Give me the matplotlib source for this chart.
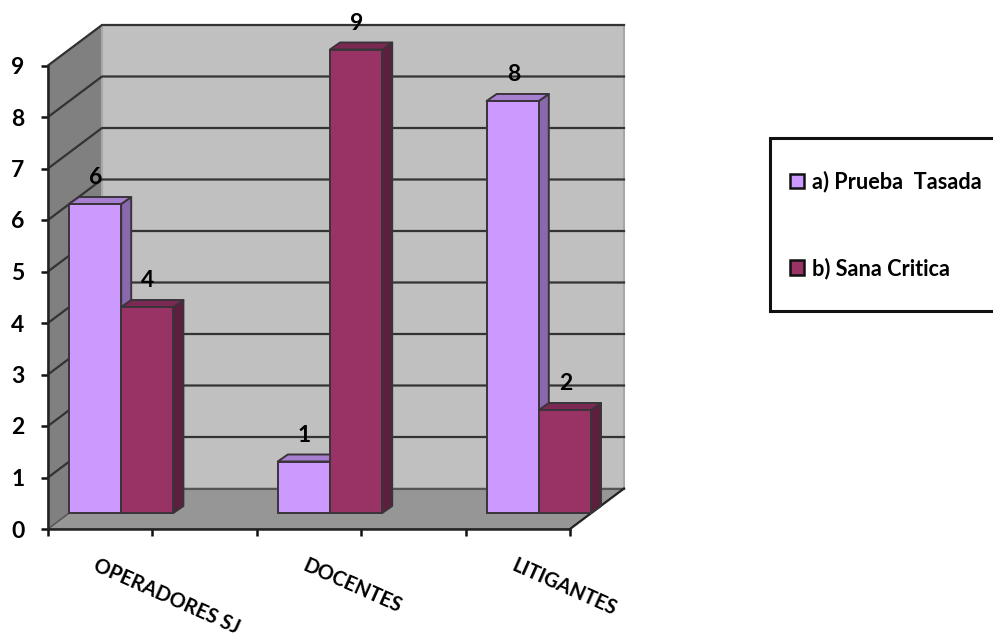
import matplotlib
matplotlib.use("Agg")
import matplotlib.pyplot as plt
from matplotlib.patches import Polygon, Rectangle, Patch

categories = ["OPERADORES SJ", "DOCENTES", "LITIGANTES"]
series_names = ["a) Prueba  Tasada", "b) Sana Critica"]
prueba_tasada = [6, 1, 8]
sana_critica = [4, 9, 2]

plt.rcParams["font.family"] = ["Lato", "DejaVu Sans"]
W, H = 993, 639
fig = plt.figure(figsize=(W / 100, H / 100), dpi=100, facecolor="white")
L, R, T, B = 48, 570, 65.5, 529
ax = fig.add_axes([L / W, (H - B) / H, (R - L) / W, (B - T) / H])
ax.set_xlim(0, 2.5)
ax.set_ylim(0, 9)
ax.set_facecolor("none")

px = 2.5 / (R - L)   # data per pixel, x
py = 9 / (B - T)     # data per pixel, y
WALL = (54 * px, 40.5 * py)
BAR_OFF = (21 * px, 16 * py)
BAR_DEPTH = (10 * px, 7 * py)
BAR_W = 0.25
EDGE = "#3a343a"


def poly(pts, fc, ec=EDGE, lw=1.4, z=1):
    ax.add_patch(Polygon(pts, closed=True, facecolor=fc, edgecolor=ec,
                         linewidth=lw, zorder=z, clip_on=False, joinstyle="round"))


xmax, ymax = 2.5, 9
wx, wy = WALL
# walls and floor
poly([(0, 0), (wx, wy), (wx, ymax + wy), (0, ymax)], "#808080", ec="#6a6a6a", lw=1, z=1)
poly([(wx, wy), (xmax + wx, wy), (xmax + wx, ymax + wy), (wx, ymax + wy)], "#c0c0c0", ec="#a8a8a8", lw=1.5, z=1)
poly([(0, 0), (xmax, 0), (xmax + wx, wy), (wx, wy)], "#969696", ec="#555555", lw=1, z=1)
# gridlines across side wall and back wall
for v in range(1, 10):
    ax.plot([0, wx, xmax + wx], [v, v + wy, v + wy], color="#333333", lw=1.6,
            zorder=2, clip_on=False, solid_joinstyle="round")
ax.plot([wx, xmax + wx], [wy, wy], color="#555555", lw=1.5, zorder=2, clip_on=False)
ax.plot([xmax, xmax + wx], [0, wy], color="#222222", lw=1.6, zorder=2, clip_on=False)

# bars
styles = [("#cc99ff", "#a77fd0", "#8a68ae"), ("#993366", "#7a2952", "#5c1f3d")]
ox, oy = BAR_OFF
dx, dy = BAR_DEPTH
z = 3
for i in range(len(categories)):
    for j, vals in enumerate((prueba_tasada, sana_critica)):
        v = vals[i]
        front, top, side = styles[j]
        x0 = i + ox + j * BAR_W
        x1 = x0 + BAR_W
        y1 = oy + v
        poly([(x1, oy), (x1 + dx, oy + dy), (x1 + dx, y1 + dy), (x1, y1)], side, z=z)
        poly([(x0, y1), (x1, y1), (x1 + dx, y1 + dy), (x0 + dx, y1 + dy)], top, z=z)
        ax.bar(x0, v, width=BAR_W, bottom=oy, align="edge", color=front,
               edgecolor=EDGE, linewidth=1.4, zorder=z + 0.1, clip_on=False)
        ax.annotate(str(v), (x0 + BAR_W / 2, y1), xytext=(0.5, 26.5 * 0.72),
                    textcoords="offset points", ha="center", va="center",
                    fontsize=16.5, fontweight="bold", color="black",
                    zorder=20, annotation_clip=False)
        z += 1

# axes
for s in ("top", "right"):
    ax.spines[s].set_visible(False)
for s in ("left", "bottom"):
    ax.spines[s].set_color("#222222")
    ax.spines[s].set_linewidth(1.8)
    ax.spines[s].set_zorder(2.5)
ax.set_yticks(range(0, 10))
ax.set_xticks([k * 0.5 for k in range(6)])
ax.set_xticklabels([])
ax.tick_params(axis="both", length=5, width=1.8, color="#111111")
ax.tick_params(axis="y", pad=12, labelsize=16.5)
for t in ax.get_yticklabels():
    t.set_fontweight("bold")

for i, name in enumerate(categories):
    ax.annotate(name, (i + 51 * px, 0), xytext=(0, -19), textcoords="offset points",
                rotation=-24, rotation_mode="anchor", ha="left", va="top",
                fontsize=14.4, fontweight="bold", annotation_clip=False)

# legend
fig.add_artist(Rectangle((769.5 / W, (H - 311) / H), 260 / W, 173 / H,
                         transform=fig.transFigure, facecolor="white",
                         edgecolor="#111111", linewidth=2.2, zorder=1))
handles = [Patch(facecolor=styles[k][0], edgecolor="#111111", linewidth=1.8) for k in range(2)]
leg = fig.legend(handles, series_names, loc="center left",
                 bbox_to_anchor=(790 / W, (H - 225) / H), frameon=False,
                 prop={"family": "Lato", "weight": "bold", "size": 15.6},
                 handlelength=0.65, handleheight=0.65, handletextpad=0.36,
                 labelspacing=3.0, borderpad=0, borderaxespad=0)
leg.set_zorder(5)

fig.savefig("out.png", dpi=100)
